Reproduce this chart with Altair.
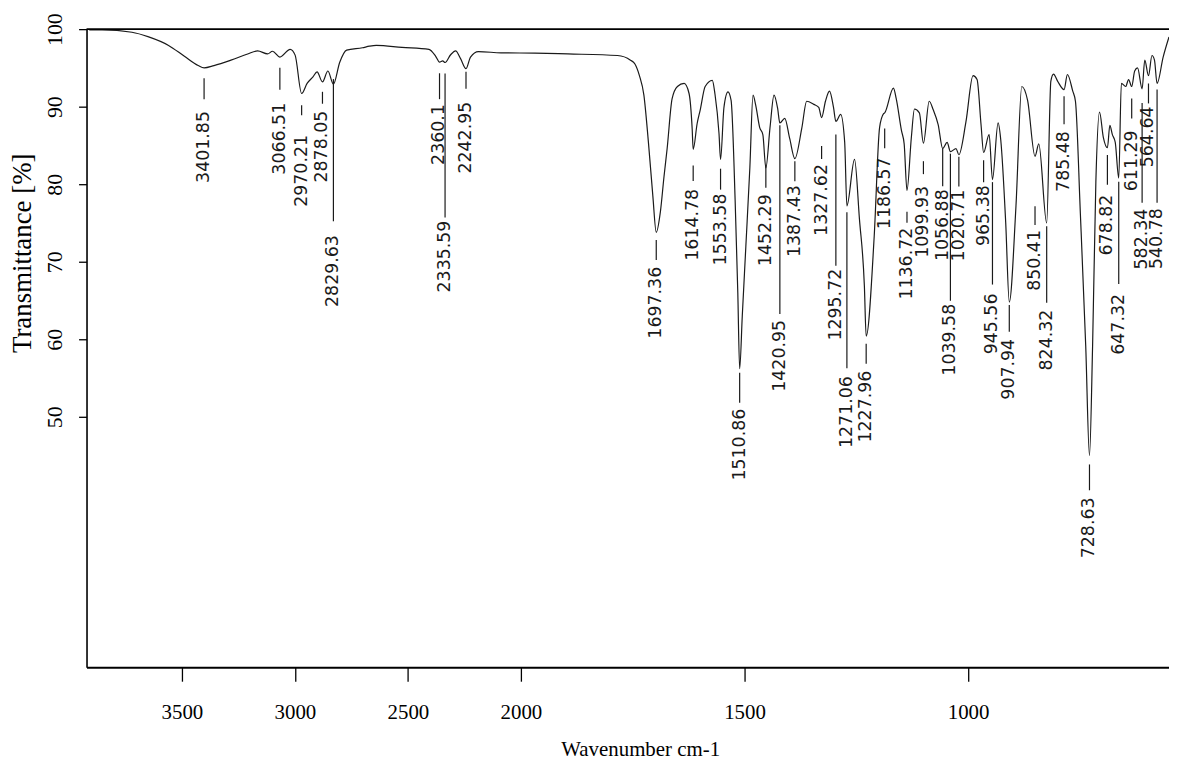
import altair as alt
import pandas as pd

# ---- spectrum (wavenumber cm-1, transmittance %) ----
spectrum_wn = [3910, 3853, 3721, 3647, 3559, 3489, 3428, 3401.85, 3358, 3283, 3209, 3165, 3121, 3099,
               3066.51, 3021, 2999, 2970.21, 2946, 2920, 2902, 2878.05, 2854, 2829.63, 2802, 2771, 2701,
               2670, 2640, 2526, 2407, 2377, 2360.1, 2346, 2335.59, 2311, 2289, 2267, 2242.95, 2223, 2188,
               2088, 1969, 1895, 1784, 1755, 1745, 1735, 1725, 1715, 1705, 1697.36, 1688, 1680, 1673, 1662,
               1650, 1635, 1624, 1617, 1614.78, 1606, 1599, 1588, 1572, 1566, 1557, 1553.58, 1546, 1537,
               1530, 1521, 1515, 1510.86, 1505, 1497, 1488, 1481, 1475, 1466, 1459, 1452.29, 1443, 1434,
               1426, 1420.95, 1410, 1399, 1387.43, 1372, 1361, 1345, 1334, 1327.62, 1319, 1310, 1301,
               1295.72, 1285, 1276, 1271.06, 1254, 1243, 1232, 1227.96, 1210, 1198, 1189, 1186.57, 1167,
               1161, 1149, 1143, 1136.72, 1127, 1120, 1109, 1099.93, 1087, 1078, 1067, 1056.88, 1047,
               1039.58, 1027, 1020.71, 1005, 989, 980, 971, 965.38, 953, 945.56, 933, 927, 916, 907.94,
               893, 880, 867, 850.41, 842, 824.32, 815, 809, 800, 785.48, 778, 766, 760, 749, 737, 728.63,
               720, 710.9, 700.7, 690, 678.82, 672, 665, 657, 647.32, 640, 628, 620, 611.29, 603, 595,
               582.34, 575, 564.64, 555, 548, 540.78, 533, 525.5]
spectrum_T = [99.9, 99.9, 99.6, 99.0, 97.9, 96.5, 95.3, 95.0, 95.3, 96.0, 96.8, 97.2, 96.8, 97.15,
              96.4, 97.4, 96.65, 91.7, 93.0, 93.85, 94.5, 93.2, 94.6, 92.9, 95.7, 97.3, 97.6,
              97.8, 97.9, 97.65, 97.4, 96.5, 95.75, 95.9, 95.7, 96.7, 97.2, 96.2, 94.9, 96.4, 97.1,
              96.95, 96.9, 96.8, 96.6, 96.0, 95.5, 94.0, 91.5, 85.5, 78.5, 73.8, 76.5, 81.0, 84.6, 91.0,
              92.6, 93.0, 91.7, 87.1, 84.5, 87.8, 89.6, 92.6, 93.4, 91.6, 86.5, 83.2, 89.9, 91.9,
              90.8, 78.0, 66.0, 56.2, 63.0, 72.0, 82.2, 91.5, 90.2, 87.3, 86.4, 82.1, 87.3, 91.5,
              89.8, 87.9, 88.5, 85.9, 83.3, 87.2, 90.7, 90.3, 89.9, 88.6, 90.7, 92.0, 89.9,
              88.1, 89.0, 85.4, 77.2, 83.2, 75.5, 66.9, 60.4, 73.3, 87.3, 89.1, 89.2, 92.4,
              91.1, 86.9, 85.2, 79.2, 86.0, 89.7, 89.2, 85.3, 90.7, 89.6, 87.7, 84.6, 85.4,
              84.2, 84.6, 83.8, 88.0, 94.0, 93.5, 87.6, 84.1, 86.4, 80.6, 87.9, 85.7, 75.1, 64.8,
              77.2, 92.6, 90.8, 83.6, 85.2, 75.0, 93.3, 94.2, 93.3, 92.2, 94.15, 92.0, 90.7, 76.2, 59.1, 45.0,
              59.1, 80.3, 89.3, 86.0, 84.7, 87.6, 86.4, 85.4, 80.8, 93.0, 92.6, 93.5, 92.6, 94.6, 95.0,
              92.3, 96.0, 94.0, 96.6, 96.0, 93.0, 96.4, 99.0]

# ---- peak labels ----
label_text = ["3401.85", "3066.51", "2970.21", "2878.05", "2829.63", "2360.1", "2335.59", "2242.95",
              "1697.36", "1614.78", "1553.58", "1510.86", "1452.29", "1420.95", "1387.43", "1327.62",
              "1295.72", "1271.06", "1227.96", "1186.57", "1136.72", "1099.93", "1056.88", "1039.58",
              "1020.71", "965.38", "945.56", "907.94", "850.41", "824.32", "785.48", "728.63",
              "678.82", "647.32", "611.29", "582.34", "564.64", "540.78"]
label_wn = [3401.85, 3066.51, 2970.21, 2878.05, 2829.63, 2360.1, 2335.59, 2242.95,
            1697.36, 1614.78, 1553.58, 1510.86, 1452.29, 1420.95, 1387.43, 1327.62,
            1295.72, 1271.06, 1227.96, 1186.57, 1136.72, 1099.93, 1056.88, 1039.58,
            1020.71, 965.38, 945.56, 907.94, 850.41, 824.32, 785.48, 728.63,
            678.82, 647.32, 611.29, 582.34, 564.64, 540.78]
# transmittance levels of each marker line (top / bottom) and of the text end
line_top = [93.67, 95.01, 90.19, 91.92, 93.56, 94.31, 94.28, 94.49,
            72.81, 82.42, 82.0, 55.67, 82.5, 87.6, 82.95, 84.92,
            86.4, 76.4, 59.42, 87.19, 76.44, 82.97, 84.6, 83.94,
            83.54, 83.08, 80.27, 64.42, 77.17, 74.59, 91.33, 43.86,
            83.78, 80.31, 91.04, 90.46, 92.99, 92.2]
line_bottom = [90.97, 92.19, 88.9, 90.38, 75.22, 90.97, 75.72, 92.31,
               70.24, 80.4, 79.3, 51.82, 79.56, 63.26, 80.38, 83.26,
               69.5, 56.27, 56.86, 84.63, 75.03, 81.3, 79.73, 64.97,
               79.69, 80.26, 67.06, 60.96, 74.73, 64.72, 87.74, 40.53,
               79.94, 67.13, 88.47, 77.62, 90.42, 77.6]
text_top = [89.44, 90.5, 86.35, 89.49, 73.44, 90.33, 75.31, 90.64,
            69.35, 79.4, 78.8, 51.05, 78.7, 62.5, 79.87, 82.6,
            69.1, 55.25, 55.96, 83.47, 74.39, 79.78, 79.35, 64.58,
            79.31, 79.87, 65.9, 60.06, 74.09, 63.82, 86.85, 39.6,
            78.65, 65.85, 86.94, 76.85, 90.03, 76.9]

x_ticks = [3500, 3000, 2500, 2000, 1500, 1000]
y_ticks = [50, 60, 70, 80, 90, 100]
frame_top = [100]

spec = pd.DataFrame({"wn": spectrum_wn, "T": spectrum_T})
labels = pd.DataFrame({"wn": label_wn, "text": label_text, "top": line_top,
                       "bottom": line_bottom, "ttop": text_top})
frame = pd.DataFrame({"T": frame_top})

xscale = alt.Scale(domain=[3922, 2000, 728.63, 540.78, 525.5], range=[0, 437, 1009, 1077, 1089],
                   nice=False, zero=False)
yscale = alt.Scale(domain=[17.7, 100], nice=False, zero=False)

serif = "Liberation Serif"

xaxis = alt.Axis(values=x_ticks, format="d", grid=False, labelFont=serif, labelFontSize=21,
                 labelColor="black", labelPadding=32, labelBaseline="middle", labelFlush=False,
                 labelOverlap=False, tickSize=14, tickColor="black", tickWidth=1.3,
                 domainColor="black", domainWidth=2,
                 title="Wavenumber cm-1", titleFont=serif, titleFontSize=21, titleFontWeight="normal",
                 titleColor="black", titleX=557, titleY=89, titleAlign="center",
                 titleBaseline="alphabetic")
yaxis = alt.Axis(values=y_ticks, format="d", grid=False, labelFont=serif, labelFontSize=22,
                 labelColor="black", labelAngle=270, labelAlign="center", labelBaseline="alphabetic",
                 labelPadding=17, labelFlush=False, labelOverlap=False,
                 tickSize=8, tickColor="black", tickWidth=1.3, domainColor="black", domainWidth=1.6,
                 title="Transmittance [%]", titleFont=serif, titleFontSize=27, titleFontWeight="normal",
                 titleColor="black", titleAngle=270, titleX=-64, titleY=225, titleAlign="center",
                 titleBaseline="middle")

curve = alt.Chart(spec).mark_line(color="#1a1a1a", strokeWidth=1.2, interpolate="monotone").encode(
    x=alt.X("wn:Q", scale=xscale, axis=xaxis),
    y=alt.Y("T:Q", scale=yscale, axis=yaxis),
)

ticks = alt.Chart(labels).mark_rule(color="#1a1a1a", strokeWidth=1.2).encode(
    x="wn:Q", y="top:Q", y2="bottom:Q"
)

texts = alt.Chart(labels).mark_text(angle=270, align="right", baseline="middle",
                                    font="DejaVu Sans", fontSize=17.5, color="#1a1a1a").encode(
    x="wn:Q", y="ttop:Q", text="text:N"
)

top_line = alt.Chart(frame).mark_rule(color="black", strokeWidth=1.6).encode(y="T:Q")

chart = alt.layer(curve, ticks, texts, top_line).properties(
    width=1089, height=642,
    autosize=alt.AutoSizeParams(type="none"),
    padding={"left": 79, "top": 19, "right": 0, "bottom": 91},
    background="white",
).configure_view(stroke=None)

chart.save("out.html", embed_options={"renderer": "svg", "actions": False})
